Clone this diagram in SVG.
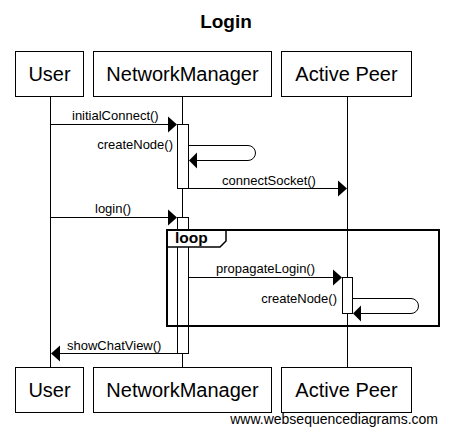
<svg xmlns="http://www.w3.org/2000/svg" width="449" height="436" viewBox="0 0 449 436">
<style>
.box{fill:#fff;stroke:#000;stroke-width:1}
.pt{font-family:"Liberation Sans",Arial,sans-serif;font-size:20px;text-anchor:middle;fill:#000}
.ml{font-family:"Liberation Sans",Arial,sans-serif;font-size:13px;fill:#000}
.ln{stroke:#000;stroke-width:1;fill:none}
.act{fill:#fff;stroke:#000;stroke-width:1}
.ah{fill:#000}
</style>
<rect width="449" height="436" fill="#fff"/>
<text x="226" y="28" font-family="Liberation Sans,Arial,sans-serif" font-size="19" font-weight="bold" text-anchor="middle">Login</text>
<g id="lifelines">
<line class="ln" x1="50.5" y1="96" x2="50.5" y2="367"/>
<line class="ln" x1="182.5" y1="96" x2="182.5" y2="367"/>
<line class="ln" x1="347.5" y1="96" x2="347.5" y2="367"/>
</g>
<g id="activations">
<rect class="act" x="177.5" y="124.5" width="11" height="64"/>
<rect class="act" x="177.5" y="217.5" width="11" height="136"/>
<rect class="act" x="342.5" y="277.5" width="10" height="36"/>
</g>
<g id="loop">
<path d="M167,230 H226 V241 L220,247 H167 Z" fill="#fff" stroke="none"/>
<path d="M167,247 H220 L226,241 V230" fill="none" stroke="#000" stroke-width="1.5"/>
<rect x="167" y="230" width="272" height="96" fill="none" stroke="#000" stroke-width="2"/>
<text x="175" y="243" font-family="Liberation Sans,Arial,sans-serif" font-size="15.5" font-weight="bold">loop</text>
</g>
<g id="connectors">
<line class="ln" x1="50" y1="124.5" x2="170" y2="124.5"/>
<polygon class="ah" points="177,124.5 168,116.5 168,132.5"/>
<text class="ml" x="72" y="120">initialConnect()</text>

<path class="ln" d="M188.5,145.5 H248 A7.5,7.5 0 0 1 248,160.5 H196"/>
<polygon class="ah" points="189,160.5 197,152.5 197,168.5"/>
<text class="ml" x="173" y="149" text-anchor="end">createNode()</text>

<line class="ln" x1="188" y1="188.5" x2="340" y2="188.5"/>
<polygon class="ah" points="347,188.5 338,180.5 338,196.5"/>
<text class="ml" x="222" y="185">connectSocket()</text>

<line class="ln" x1="50" y1="217.5" x2="170" y2="217.5"/>
<polygon class="ah" points="177,217.5 168,209.5 168,225.5"/>
<text class="ml" x="95" y="213">login()</text>

<line class="ln" x1="188" y1="277.5" x2="335" y2="277.5"/>
<polygon class="ah" points="342,277.5 333,269.5 333,285.5"/>
<text class="ml" x="216" y="273">propagateLogin()</text>

<path class="ln" d="M352.5,298.5 H411 A7.5,7.5 0 0 1 411,313.5 H360"/>
<polygon class="ah" points="353,313.5 361,305.5 361,321.5"/>
<text class="ml" x="337" y="303" text-anchor="end">createNode()</text>

<line class="ln" x1="188" y1="353.5" x2="58" y2="353.5"/>
<polygon class="ah" points="51,353.5 60,345.5 60,361.5"/>
<text class="ml" x="67" y="350">showChatView()</text>
</g>
<g id="p-user-top"><rect class="box" x="15.5" y="51.5" width="68" height="45"/><text class="pt" x="49.5" y="81">User</text></g>
<g id="p-nm-top"><rect class="box" x="93.5" y="51.5" width="178" height="45"/><text class="pt" x="182.5" y="81">NetworkManager</text></g>
<g id="p-ap-top"><rect class="box" x="281.5" y="51.5" width="130" height="45"/><text class="pt" x="346.5" y="81">Active Peer</text></g>
<g id="p-user-bot"><rect class="box" x="15.5" y="367.5" width="68" height="45"/><text class="pt" x="49.5" y="397">User</text></g>
<g id="p-nm-bot"><rect class="box" x="93.5" y="367.5" width="178" height="45"/><text class="pt" x="182.5" y="397">NetworkManager</text></g>
<g id="p-ap-bot"><rect class="box" x="281.5" y="367.5" width="130" height="45"/><text class="pt" x="346.5" y="397">Active Peer</text></g>
<text x="438" y="424" font-family="Liberation Sans,Arial,sans-serif" font-size="14" text-anchor="end">www.websequencediagrams.com</text>
</svg>
